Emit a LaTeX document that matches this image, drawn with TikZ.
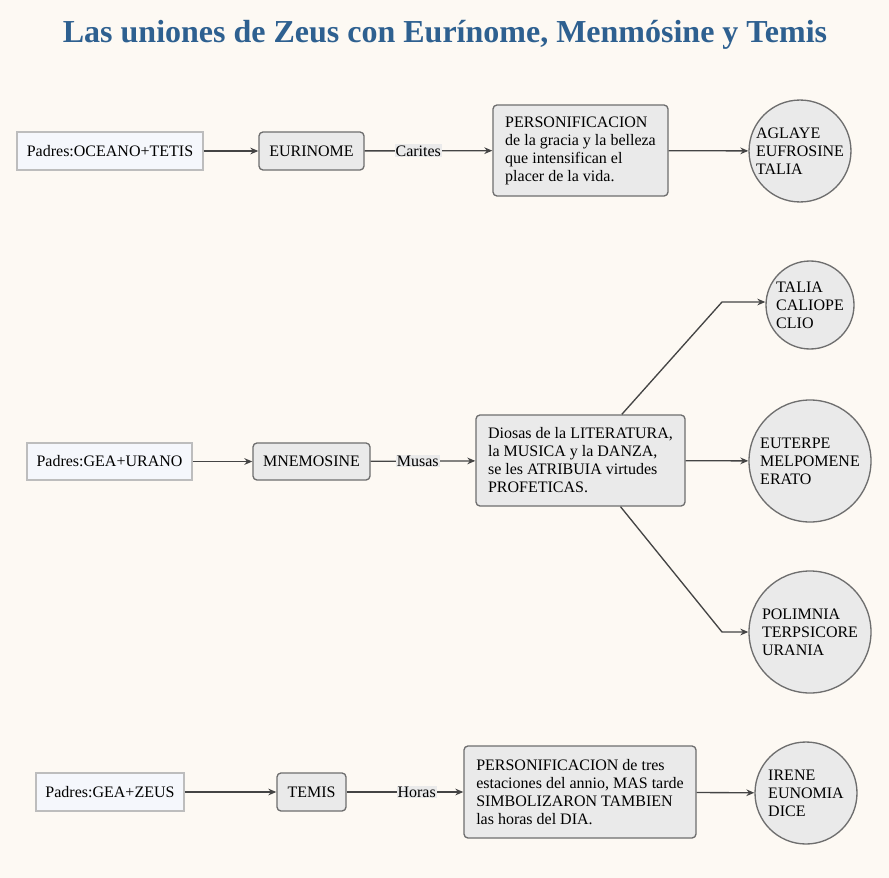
\documentclass[tikz,border=0pt]{standalone}
\usepackage{fontspec}
\setmainfont{Liberation Serif}
\usetikzlibrary{arrows.meta}

\definecolor{fondo}{RGB}{253,249,243}
\definecolor{titulo}{RGB}{46,96,144}
\definecolor{padrefill}{RGB}{245,247,252}
\definecolor{padreline}{RGB}{189,189,189}
\definecolor{cajafill}{RGB}{234,234,234}
\definecolor{cajaline}{RGB}{110,110,110}
\definecolor{linea}{RGB}{68,68,68}

\tikzset{every picture/.style={line width=0.75pt}}
\tikzset{
  padre/.style={draw=padreline, fill=padrefill, line width=1pt, minimum height=28.5pt, inner sep=0.75pt, font=\fontsize{12}{13.5}\selectfont},
  diosa/.style={draw=cajaline, fill=cajafill, rounded corners=3pt, line width=1pt, minimum height=28.5pt, inner sep=0.75pt, font=\fontsize{12}{13.5}\selectfont},
  nota/.style={draw=cajaline, fill=cajafill, rounded corners=3pt, line width=1pt, align=left, inner sep=0.75pt, font=\fontsize{12}{13.5}\selectfont},
  hijas/.style={circle, draw=cajaline, fill=cajafill, line width=1pt, align=left, inner sep=0.75pt, font=\fontsize{12}{13.5}\selectfont},
  etiqueta/.style={fill=cajafill, inner sep=0.75pt, font=\fontsize{12}{13.5}\selectfont},
  flecha/.style={draw=linea, line width=1pt, -{Stealth[length=6pt,width=5pt]}},
}

\begin{document}
\begin{tikzpicture}[x=0.75pt,y=0.75pt,yscale=-1,xscale=1]
%set diagram left start at 0, and has height of 878
\fill[fondo] (0,0) rectangle (889,878);
\useasboundingbox (0,0) rectangle (889,878);

% Title Node
\node (titulo) at (445,35) [text=titulo, font=\fontsize{24}{28}\selectfont\bfseries] {Las uniones de Zeus con Eurínome, Menmósine y Temis};

% Row 1
\node (padres1) at (110,151) [padre, minimum width=139.5pt] {Padres:OCEANO+TETIS};
\node (eurinome) at (311.5,151) [diosa, minimum width=78.75pt] {EURINOME};
\node (carites) at (580.5,150.5) [nota, minimum width=131.25pt, minimum height=68.25pt] {PERSONIFICACION\\de la gracia y la belleza\\que intensifican el\\placer de la vida.};
\node (aglaye) at (800,151) [hijas, minimum size=70.5pt] {AGLAYE\\EUFROSINE\\TALIA};

% Row 2
\node (padres2) at (109.5,461.5) [padre, minimum width=123.75pt, minimum height=27.75pt] {Padres:GEA+URANO};
\node (mnemosine) at (311.5,461.5) [diosa, minimum width=87.75pt, minimum height=27.75pt] {MNEMOSINE};
\node (musas) at (580.5,460.5) [nota, minimum width=156.75pt, minimum height=68.25pt] {Diosas de la LITERATURA,\\la MUSICA y la DANZA,\\se les ATRIBUIA virtudes\\PROFETICAS.};
\node (talia) at (810,305) [hijas, minimum size=66pt] {TALIA\\CALIOPE\\CLIO};
\node (euterpe) at (810,461) [hijas, minimum size=91.5pt] {EUTERPE\\MELPOMENE\\ERATO};
\node (polimnia) at (810,632) [hijas, minimum size=91.5pt] {POLIMNIA\\TERPSICORE\\URANIA};
\coordinate (codo1) at (722,302);
\coordinate (codo2) at (722,632);

% Row 3
\node (padres3) at (110,792) [padre, minimum width=111pt] {Padres:GEA+ZEUS};
\node (temis) at (311.5,792) [diosa, minimum width=51.75pt] {TEMIS};
\node (horas) at (580,792) [nota, minimum width=174pt, minimum height=69pt] {PERSONIFICACION de tres\\estaciones del annio, MAS tarde\\SIMBOLIZARON TAMBIEN\\las horas del DIA.};
\node (irene) at (806,793) [hijas, minimum size=76.5pt] {IRENE\\EUNOMIA\\DICE};

%Straight Lines
\draw [flecha] (padres1) -- (eurinome);
\draw [flecha] (eurinome) -- node [etiqueta, pos=0.42] {Carites} (carites);
\draw [flecha] (carites) -- (aglaye);
\draw [flecha] (padres2) -- (mnemosine);
\draw [flecha] (mnemosine) -- node [etiqueta, pos=0.45] {Musas} (musas);
\draw [flecha] ([xshift=31pt]musas.north) -- (codo1) -- (codo1 -| talia.west);
\draw [flecha] (musas) -- (euterpe);
\draw [flecha] ([xshift=30pt]musas.south) -- (codo2) -- (polimnia);
\draw [flecha] (padres3) -- (temis);
\draw [flecha] (temis) -- node [etiqueta, pos=0.6] {Horas} (horas);
\draw [flecha] (horas) -- (irene);

\end{tikzpicture}
\end{document}
